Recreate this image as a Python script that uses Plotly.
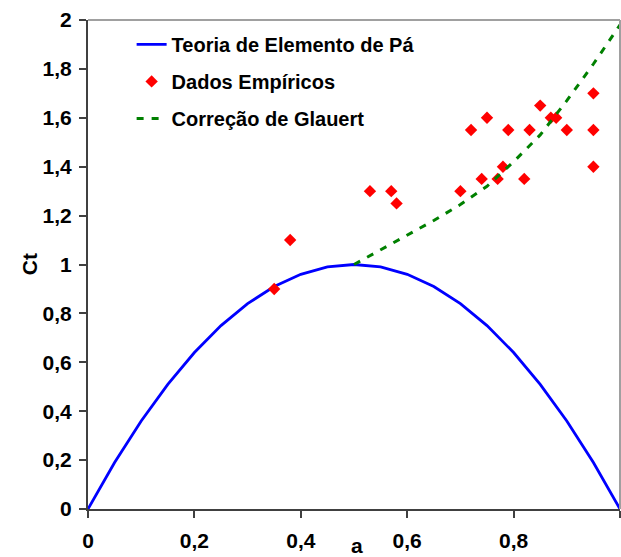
import plotly.graph_objects as go

# Blade element theory curve
a_teoria = [0, 0.05, 0.1, 0.15, 0.2, 0.25, 0.3, 0.35, 0.4, 0.45, 0.5,
            0.55, 0.6, 0.65, 0.7, 0.75, 0.8, 0.85, 0.9, 0.95, 1.0]
ct_teoria = [0, 0.19, 0.36, 0.51, 0.64, 0.75, 0.84, 0.91, 0.96, 0.99, 1.0,
             0.99, 0.96, 0.91, 0.84, 0.75, 0.64, 0.51, 0.36, 0.19, 0]

# Empirical data
a_emp = [0.35, 0.38, 0.53, 0.57, 0.58, 0.70, 0.72, 0.74, 0.75, 0.77, 0.78,
         0.79, 0.82, 0.83, 0.85, 0.87, 0.88, 0.90, 0.95, 0.95, 0.95]
ct_emp = [0.90, 1.10, 1.30, 1.30, 1.25, 1.30, 1.55, 1.35, 1.60, 1.35, 1.40,
          1.55, 1.35, 1.55, 1.65, 1.60, 1.60, 1.55, 1.40, 1.55, 1.70]

# Glauert correction
a_glauert = [0.5, 0.55, 0.6, 0.65, 0.7, 0.75, 0.8, 0.85, 0.9, 0.95, 1.0]
ct_glauert = [1.0, 1.06, 1.12, 1.18, 1.245, 1.32, 1.42, 1.53, 1.67, 1.82, 1.98]

x_ticks = [0, 0.2, 0.4, 0.6, 0.8, 1]
x_labels = ["0", "0,2", "0,4", "0,6", "0,8", "1"]
y_ticks = [0, 0.2, 0.4, 0.6, 0.8, 1, 1.2, 1.4, 1.6, 1.8, 2]
y_labels = ["0", "0,2", "0,4", "0,6", "0,8", "1", "1,2", "1,4", "1,6", "1,8", "2"]

FONT = "Liberation Sans"
TXT = dict(family=FONT, size=21, color="black", weight="bold")

fig = go.Figure()
fig.add_trace(go.Scatter(x=a_teoria, y=ct_teoria, mode="lines",
                         name="Teoria de Elemento de Pá", legendgroup="g1",
                         line=dict(color="#0000ff", width=2.8)))
fig.add_trace(go.Scatter(x=a_emp, y=ct_emp, mode="markers",
                         name="Dados Empíricos", legendgroup="g2",
                         marker=dict(color="#ff0000", symbol="diamond", size=9.5)))
fig.add_trace(go.Scatter(x=a_glauert, y=ct_glauert, mode="lines",
                         name="Correção de Glauert", legendgroup="g3",
                         line=dict(color="#008000", width=3, dash="7px,8px")))

axis_common = dict(showgrid=False, zeroline=False, ticks="outside", ticklen=7,
                   tickcolor="#404040", tickwidth=1.5, showline=True,
                   linecolor="#404040", linewidth=2, automargin=False,
                   tickfont=TXT)

fig.update_layout(
    width=621, height=557,
    margin=dict(l=88, r=1, t=20, b=48),
    plot_bgcolor="white", paper_bgcolor="white",
    showlegend=True,
    legend=dict(x=0.082, y=0.99, xanchor="left", yanchor="top",
                bgcolor="rgba(0,0,0,0)", traceorder="grouped", tracegroupgap=8,
                font=dict(family=FONT, size=20, color="black", weight="bold")),
    xaxis=dict(range=[0, 1], tickvals=x_ticks, ticktext=x_labels,
               ticklabelstandoff=5, **axis_common),
    yaxis=dict(range=[0, 2], tickvals=y_ticks, ticktext=y_labels,
               ticklabelstandoff=3, **axis_common),
    shapes=[
        dict(type="line", xref="paper", yref="paper", x0=0, x1=1, y0=1, y1=1,
             line=dict(color="#a0a0a0", width=2)),
        dict(type="line", xref="paper", yref="paper", x0=1, x1=1, y0=0, y1=1,
             line=dict(color="#a0a0a0", width=2)),
    ],
    annotations=[
        dict(text="Ct", xref="paper", yref="y", x=-0.135, y=1.0, showarrow=False,
             textangle=-90, font=TXT),
        dict(text="a", xref="paper", yref="paper", x=0.505, y=-0.093,
             yanchor="bottom", yshift=-4, showarrow=False, font=TXT, borderpad=0),
    ],
)

fig.write_html("out.html")
